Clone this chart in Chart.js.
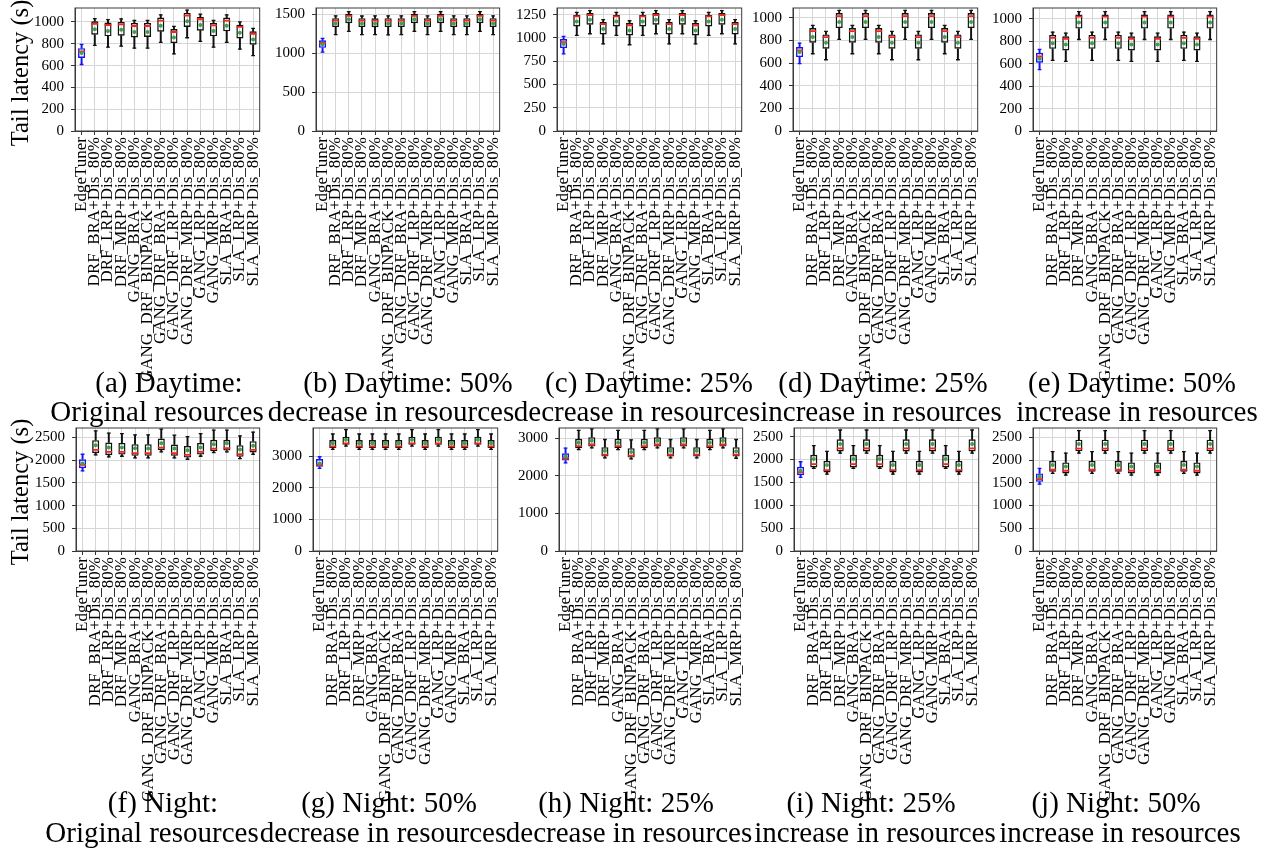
<!DOCTYPE html>
<html>
<head>
<meta charset="utf-8">
<script src="https://cdn.jsdelivr.net/npm/chart.js@4.4.1/dist/chart.umd.min.js"></script>
<style>
  body { margin: 0; background: #fff; width: 1264px; height: 853px; position: relative; overflow: hidden; font-family: 'Liberation Serif', 'DejaVu Serif', serif; }
  canvas { position: absolute; }
  .cap { position: absolute; font-size: 29px; line-height: 1; white-space: nowrap; transform: translate(-50%, -50%); color: #000; }
  .ylab { position: absolute; font-size: 24.5px; line-height: 1; white-space: nowrap; transform: translate(-50%, -50%) rotate(-90deg); color: #000; }
</style>
</head>
<body>
<script>
// categories on the x axis (same for every panel)
const categories = [
  "EdgeTuner", "DRF_BRA+Dis_80%", "DRF_LRP+Dis_80%", "DRF_MRP+Dis_80%",
  "GANG_BRA+Dis_80%", "GANG_DRF_BINPACK+Dis_80%", "GANG_DRF_BRA+Dis_80%",
  "GANG_DRF_LRP+Dis_80%", "GANG_DRF_MRP+Dis_80%", "GANG_LRP+Dis_80%",
  "GANG_MRP+Dis_80%", "SLA_BRA+Dis_80%", "SLA_LRP+Dis_80%", "SLA_MRP+Dis_80%"
];

// each row: [min, q1, median, q3, max, mean]  (seconds)
const dayOriginal = [
  [610, 670, 730, 760, 795, 715], [785, 883, 982, 1006, 1031, 932], [769, 868, 972, 994, 1022, 917],
  [778, 874, 978, 1000, 1028, 929], [760, 858, 963, 991, 1015, 908], [760, 862, 963, 991, 1015, 908],
  [812, 911, 1012, 1040, 1065, 966], [708, 806, 908, 935, 960, 858], [855, 954, 1058, 1083, 1108, 1006],
  [822, 920, 1025, 1046, 1071, 972], [769, 868, 969, 991, 1015, 917], [812, 914, 1012, 1040, 1065, 966],
  [751, 849, 954, 975, 1000, 902], [692, 791, 892, 914, 942, 840]
];
const day50Dec = [
  [1013, 1068, 1131, 1165, 1191, 1114], [1237, 1335, 1419, 1449, 1479, 1381], [1280, 1385, 1479, 1504, 1534, 1436],
  [1237, 1335, 1417, 1449, 1477, 1380], [1237, 1333, 1419, 1447, 1479, 1381], [1235, 1335, 1419, 1449, 1479, 1382],
  [1237, 1335, 1419, 1449, 1479, 1381], [1280, 1385, 1479, 1504, 1534, 1436], [1237, 1335, 1419, 1449, 1479, 1381],
  [1280, 1385, 1479, 1504, 1534, 1436], [1237, 1335, 1419, 1449, 1479, 1381], [1237, 1335, 1419, 1449, 1479, 1381],
  [1280, 1385, 1479, 1504, 1534, 1436], [1237, 1335, 1419, 1449, 1479, 1381]
];
const day25Dec = [
  [830, 891, 955, 988, 1017, 934], [1027, 1124, 1232, 1246, 1275, 1178], [1045, 1142, 1246, 1268, 1293, 1196],
  [937, 1038, 1149, 1171, 1196, 1096], [1027, 1124, 1232, 1246, 1275, 1178], [927, 1027, 1135, 1160, 1185, 1081],
  [1027, 1124, 1232, 1246, 1275, 1178], [1045, 1142, 1246, 1268, 1293, 1196], [937, 1038, 1149, 1171, 1196, 1096],
  [1045, 1142, 1246, 1268, 1293, 1196], [937, 1027, 1135, 1160, 1185, 1081], [1027, 1124, 1232, 1246, 1275, 1178],
  [1045, 1142, 1246, 1268, 1293, 1196], [937, 1038, 1149, 1171, 1196, 1096]
];
const day25Inc = [
  [594, 653, 712, 741, 776, 697], [682, 779, 882, 909, 932, 829], [629, 726, 829, 853, 879, 779],
  [809, 909, 1015, 1041, 1065, 962], [682, 779, 882, 909, 932, 829], [809, 909, 1015, 1041, 1065, 962],
  [682, 779, 882, 909, 932, 829], [629, 726, 829, 853, 879, 779], [809, 909, 1015, 1041, 1065, 962],
  [629, 726, 829, 853, 879, 779], [809, 909, 1015, 1041, 1065, 962], [682, 779, 882, 909, 932, 829],
  [629, 726, 829, 853, 879, 779], [809, 909, 1015, 1041, 1065, 962]
];
const day50Inc = [
  [547, 610, 666, 698, 728, 645], [630, 734, 831, 858, 882, 784], [621, 719, 823, 846, 873, 772],
  [817, 914, 1021, 1039, 1065, 968], [630, 734, 831, 858, 882, 784], [817, 914, 1021, 1039, 1065, 968],
  [630, 734, 831, 858, 882, 784], [621, 719, 823, 846, 873, 772], [817, 914, 1021, 1039, 1065, 968],
  [621, 719, 823, 846, 873, 772], [817, 914, 1021, 1039, 1065, 968], [630, 734, 831, 858, 882, 784],
  [621, 719, 823, 846, 873, 772], [817, 914, 1021, 1039, 1065, 968]
];
const nightOriginal = [
  [1765, 1824, 1897, 2022, 2132, 1926], [2118, 2154, 2228, 2441, 2647, 2331], [2074, 2110, 2184, 2390, 2596, 2279],
  [2088, 2125, 2184, 2382, 2588, 2279], [2051, 2096, 2154, 2353, 2559, 2265], [2051, 2096, 2154, 2353, 2559, 2257],
  [2184, 2221, 2279, 2478, 2684, 2375], [2051, 2096, 2154, 2346, 2551, 2257], [2022, 2059, 2118, 2316, 2522, 2221],
  [2088, 2125, 2184, 2382, 2588, 2279], [2169, 2199, 2257, 2449, 2662, 2353], [2184, 2213, 2265, 2449, 2662, 2375],
  [2037, 2074, 2132, 2331, 2537, 2235], [2130, 2170, 2230, 2420, 2620, 2320]
];
const night50Dec = [
  [2618, 2671, 2735, 2915, 2989, 2777], [3222, 3265, 3318, 3519, 3710, 3413], [3328, 3371, 3413, 3625, 3848, 3530],
  [3222, 3265, 3318, 3519, 3710, 3413], [3222, 3265, 3318, 3519, 3710, 3413], [3222, 3265, 3318, 3519, 3710, 3413],
  [3222, 3265, 3318, 3519, 3710, 3413], [3328, 3371, 3413, 3625, 3848, 3530], [3222, 3265, 3318, 3519, 3710, 3413],
  [3328, 3371, 3413, 3625, 3848, 3530], [3222, 3265, 3318, 3519, 3710, 3413], [3222, 3265, 3318, 3519, 3710, 3413],
  [3328, 3371, 3413, 3625, 3848, 3530], [3222, 3265, 3318, 3519, 3710, 3413]
];
const night25Dec = [
  [2341, 2404, 2466, 2599, 2733, 2510], [2697, 2733, 2786, 2982, 3205, 2875], [2742, 2777, 2831, 3027, 3249, 2929],
  [2475, 2510, 2564, 2760, 2964, 2662], [2697, 2733, 2786, 2982, 3205, 2875], [2448, 2484, 2537, 2733, 2956, 2635],
  [2697, 2733, 2786, 2982, 3205, 2875], [2742, 2777, 2831, 3027, 3249, 2929], [2475, 2510, 2564, 2760, 2964, 2662],
  [2742, 2777, 2831, 3027, 3249, 2929], [2475, 2510, 2564, 2760, 2964, 2662], [2697, 2733, 2786, 2982, 3205, 2875],
  [2742, 2777, 2831, 3027, 3249, 2929], [2466, 2510, 2564, 2760, 2964, 2653]
];
const night25Inc = [
  [1608, 1659, 1718, 1842, 1952, 1754], [1806, 1828, 1901, 2105, 2303, 2010], [1681, 1718, 1769, 1974, 2178, 1879],
  [2142, 2178, 2244, 2442, 2646, 2339], [1806, 1828, 1901, 2105, 2303, 2010], [2142, 2178, 2244, 2442, 2646, 2339],
  [1806, 1828, 1901, 2105, 2303, 2010], [1681, 1718, 1769, 1974, 2178, 1879], [2142, 2178, 2244, 2442, 2646, 2339],
  [1681, 1718, 1769, 1974, 2178, 1879], [2142, 2178, 2244, 2442, 2646, 2339], [1806, 1828, 1901, 2105, 2303, 2010],
  [1681, 1718, 1769, 1974, 2178, 1879], [2142, 2178, 2244, 2442, 2646, 2339]
];
const night50Inc = [
  [1471, 1522, 1581, 1706, 1816, 1632], [1706, 1743, 1787, 1985, 2184, 1890], [1669, 1706, 1765, 1949, 2154, 1860],
  [2154, 2191, 2250, 2449, 2647, 2353], [1706, 1743, 1787, 1985, 2184, 1890], [2154, 2191, 2250, 2449, 2647, 2353],
  [1706, 1743, 1787, 1985, 2184, 1890], [1669, 1706, 1765, 1949, 2154, 1860], [2154, 2191, 2250, 2449, 2647, 2353],
  [1669, 1706, 1765, 1949, 2154, 1860], [2154, 2191, 2250, 2449, 2647, 2353], [1706, 1743, 1787, 1985, 2184, 1890],
  [1669, 1706, 1765, 1949, 2154, 1860], [2154, 2191, 2250, 2449, 2647, 2353]
];

// y tick labels
const ticks1000 = [0, 200, 400, 600, 800, 1000];
const ticks1500 = [0, 500, 1000, 1500];
const ticks1250 = [0, 250, 500, 750, 1000, 1250];
const ticks2500 = [0, 500, 1000, 1500, 2000, 2500];
const ticks3000 = [0, 1000, 2000, 3000];

const captions = [
  ["(a) Daytime:", "Original resources"],
  ["(b) Daytime: 50%", "decrease in resources"],
  ["(c) Daytime: 25%", "decrease in resources"],
  ["(d) Daytime: 25%", "increase in resources"],
  ["(e) Daytime: 50%", "increase in resources"],
  ["(f) Night:", "Original resources"],
  ["(g) Night: 50%", "decrease in resources"],
  ["(h) Night: 25%", "decrease in resources"],
  ["(i) Night: 25%", "increase in resources"],
  ["(j) Night: 50%", "increase in resources"]
];
const yTitle = "Tail latency (s)";

// panel layout: plot area in page pixels, axis max, caption centres
const panels = [
  { data: dayOriginal, ticks: ticks1000, max: 1128, x: 75, y: 8, w: 187, cap: [[169, 382], [157, 411]] },
  { data: day50Dec, ticks: ticks1500, max: 1580, x: 316, y: 8, w: 186, cap: [[408, 382], [391, 411]] },
  { data: day25Dec, ticks: ticks1250, max: 1322, x: 557, y: 8, w: 187, cap: [[649, 382], [637, 411]] },
  { data: day25Inc, ticks: ticks1000, max: 1086, x: 793, y: 8, w: 187, cap: [[883, 382], [881, 411]] },
  { data: day50Inc, ticks: ticks1000, max: 1098, x: 1033, y: 8, w: 186, cap: [[1132, 382], [1137, 411]] },
  { data: nightOriginal, ticks: ticks2500, max: 2710, x: 76, y: 428, w: 186, cap: [[163, 802], [152, 832]] },
  { data: night50Dec, ticks: ticks3000, max: 3900, x: 313, y: 428, w: 187, cap: [[389, 802], [383, 832]] },
  { data: night25Dec, ticks: ticks3000, max: 3270, x: 559, y: 428, w: 186, cap: [[626, 802], [629, 832]] },
  { data: night25Inc, ticks: ticks2500, max: 2690, x: 794, y: 428, w: 187, cap: [[871, 802], [875, 832]] },
  { data: night50Inc, ticks: ticks2500, max: 2705, x: 1033, y: 428, w: 186, cap: [[1116, 802], [1120, 832]] }
];
// y axis title centres, one per row
const yTitlePos = [[20, 73], [20, 492]];

const FONT = "'Liberation Serif', 'DejaVu Serif', serif";
const PLOT_H = 123;
const BLUE = "#1414f0", BLACK = "#111", RED = "#f2261d", GREEN = "#3f9f4a";

const frame = {
  id: "frame",
  afterDraw(chart) {
    const { ctx, chartArea: a } = chart;
    ctx.save();
    ctx.strokeStyle = "#3a3a3a";
    ctx.lineWidth = 1;
    ctx.strokeRect(a.left, a.top, a.right - a.left, a.bottom - a.top);
    ctx.restore();
  }
};

function addText(cls, text, x, y) {
  const d = document.createElement("div");
  d.className = cls;
  d.textContent = text;
  d.style.left = x + "px";
  d.style.top = y + "px";
  document.body.appendChild(d);
}

function drawPanel(p, i) {
  const yW = 56;
  const padTop = 20, padRight = 14, xH = 260;

  const canvas = document.createElement("canvas");
  canvas.width = yW + p.w + padRight;
  canvas.height = padTop + PLOT_H + xH;
  canvas.style.left = (p.x - yW) + "px";
  canvas.style.top = (p.y - padTop) + "px";
  document.body.appendChild(canvas);

  const rows = p.data;
  const edge = rows.map((r, k) => k === 0 ? BLUE : BLACK);
  const whisker = (lo, hi) => ({
    type: "bar", data: rows.map(r => [r[lo], r[hi]]), backgroundColor: edge,
    barThickness: 1.3, grouped: false, order: 5
  });
  const cap = idx => ({
    type: "line", data: rows.map(r => r[idx]), showLine: false, pointStyle: "line",
    pointRadius: 1.9, pointBorderColor: edge, pointBorderWidth: 1.3, order: 4
  });

  new Chart(canvas, {
    type: "bar",
    data: {
      labels: categories,
      datasets: [
        whisker(0, 1),
        whisker(3, 4),
        cap(0),
        cap(4),
        {
          type: "bar", data: rows.map(r => [r[1], r[3]]), backgroundColor: "rgba(255,255,255,0)",
          borderColor: edge, borderWidth: 1.4, borderSkipped: false,
          barPercentage: 0.54, categoryPercentage: 1, grouped: false, order: 3
        },
        {
          type: "line", data: rows.map(r => r[2]), showLine: false, pointStyle: "line",
          pointRadius: 3.4, pointBorderColor: RED, pointBorderWidth: 1.8, order: 2
        },
        {
          type: "line", data: rows.map(r => r[5]), showLine: false, pointStyle: "circle",
          pointRadius: 2, pointBackgroundColor: GREEN, pointBorderWidth: 0, order: 1
        }
      ]
    },
    options: {
      responsive: false,
      animation: false,
      layout: { padding: { top: padTop, right: padRight, left: 0, bottom: 0 } },
      plugins: { legend: { display: false }, tooltip: { enabled: false } },
      scales: {
        x: {
          type: "category",
          offset: true,
          grid: { offset: false, color: "#d6d6d6", tickColor: "#333", tickLength: 4 },
          border: { color: "#3a3a3a" },
          ticks: { autoSkip: false, minRotation: 90, maxRotation: 90, padding: 2, color: "#000", font: { family: FONT, size: 17 } },
          afterFit: s => { s.height = xH; }
        },
        y: {
          type: "linear",
          min: 0,
          max: p.max,
          afterBuildTicks: s => { s.ticks = p.ticks.map(v => ({ value: v })); },
          grid: { color: "#d6d6d6", tickColor: "#333", tickLength: 4 },
          border: { color: "#3a3a3a" },
          ticks: { padding: 7, color: "#000", font: { family: FONT, size: 15 }, callback: v => String(v) },
          afterFit: s => { s.width = yW; }
        }
      }
    },
    plugins: [frame]
  });

  captions[i].forEach((line, k) => addText("cap", line, p.cap[k][0], p.cap[k][1]));
}

panels.forEach(drawPanel);
yTitlePos.forEach(([x, y]) => addText("ylab", yTitle, x, y));
</script>
</body>
</html>
